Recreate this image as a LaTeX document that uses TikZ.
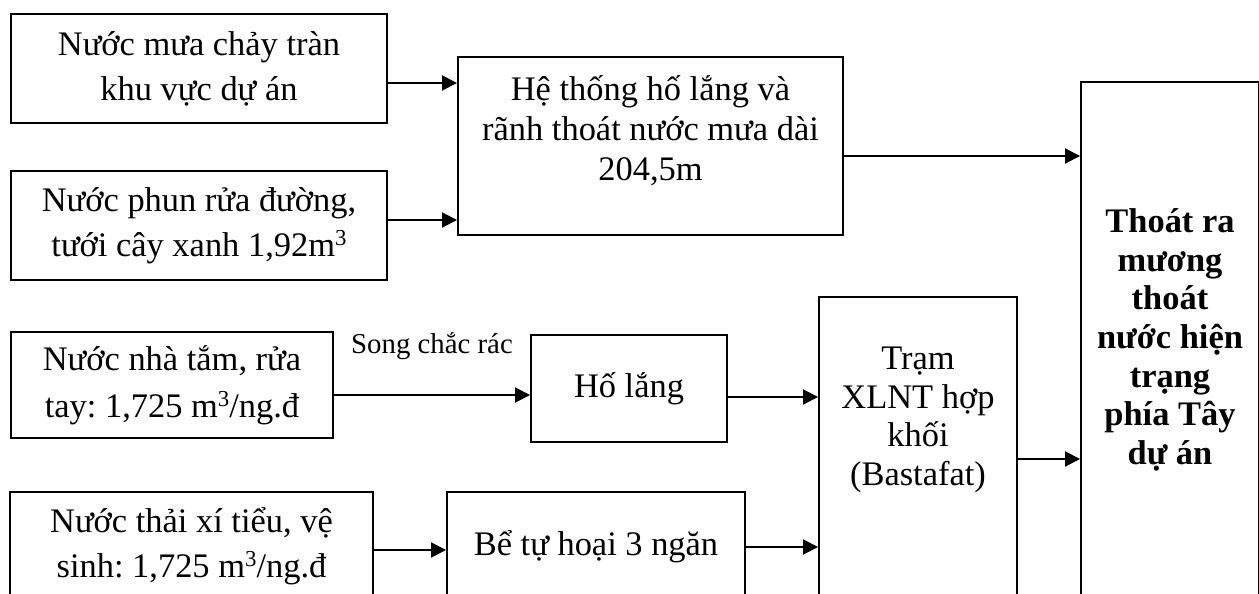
\documentclass[tikz,border=0pt]{standalone}
\usepackage{fontspec}
\setmainfont{Liberation Serif}
\usetikzlibrary{arrows.meta, positioning}
\frenchspacing
\def\px{0.02cm}
\def\mainSize{19.6}
\newcommand{\cubeMark}{\raisebox{6pt}{\fontsize{13}{13}\selectfont 3}}

\begin{document}
\begin{tikzpicture}[
    x=\px, y=-\px,
    line width=1.1pt,
    >={Triangle[length=3mm,width=3mm]},
    box/.style={draw, rectangle, align=center, inner sep=0pt,
        font=\fontsize{\mainSize}{25.6}\selectfont},
    txt/.style={align=center, inner sep=0pt,
        font=\fontsize{\mainSize}{22.8}\selectfont}
]
\useasboundingbox (0,0) rectangle (1259,594);

% sources on the left
\node[box, minimum width=376*\px, minimum height=109*\px] (rain) at (199,68.5)
    {Nước mưa chảy tràn\\khu vực dự án};
\node[box, minimum width=376*\px, minimum height=109*\px] (spray) at (199,225.5)
    {Nước phun rửa đường,\\tưới cây xanh 1,92m\cubeMark};
\node[box, minimum width=322*\px, minimum height=106*\px,
    font=\fontsize{\mainSize}{26.5}\selectfont] (bath) at (172,385)
    {Nước nhà tắm, rửa\\tay: 1,725 m\cubeMark/ng.đ};
\node[box, minimum width=363*\px, minimum height=108*\px] (toilet) at (191.5,546)
    {Nước thải xí tiểu, vệ\\sinh: 1,725 m\cubeMark/ng.đ};

% treatment
\node[box, minimum width=385*\px, minimum height=178*\px] (pit) at (650.5,146) {};
\node[txt] (pittxt) at (650.5,131)
    {Hệ thống hố lắng và\\rãnh thoát nước mưa dài\\204,5m};
\node[box, minimum width=196*\px, minimum height=107*\px] (settle) at (629,388.5)
    {Hố lắng};
\node[box, minimum width=298*\px, minimum height=110*\px] (septic) at (596,547)
    {Bể tự hoại 3 ngăn};
\node[box, minimum width=198*\px, minimum height=303*\px] (plant) at (918,448.5) {};
\node[txt, font=\fontsize{\mainSize}{22}\selectfont] (planttxt) at (918,420)
    {Trạm\\XLNT hợp\\khối\\(Bastafat)};

% outlet
\node[box, minimum width=178*\px, minimum height=516*\px,
    font=\bfseries\fontsize{\mainSize}{22}\selectfont] (outlet) at (1170,340)
    {Thoát ra\\mương\\thoát\\nước hiện\\trạng\\phía Tây\\dự án};

\draw[->] (rain.east |- 0,83) -- (pit.west |- 0,83);
\draw[->] (spray.east |- 0,220) -- (pit.west |- 0,220);
\draw[->] (pit.east |- 0,156) -- (outlet.west |- 0,156);
\draw[->] (bath.east |- 0,395) -- node[midway, above=34*\px, inner sep=0pt,
    font=\fontsize{16.4}{18}\selectfont] (sieve) {Song chắc rác} (settle.west |- 0,395);
\draw[->] (settle.east |- 0,397) -- (plant.west |- 0,397);
\draw[->] (plant.east |- 0,459) -- (outlet.west |- 0,459);
\draw[->] (toilet.east |- 0,550) -- (septic.west |- 0,550);
\draw[->] (septic.east |- 0,547) -- (plant.west |- 0,547);
\end{tikzpicture}
\end{document}
